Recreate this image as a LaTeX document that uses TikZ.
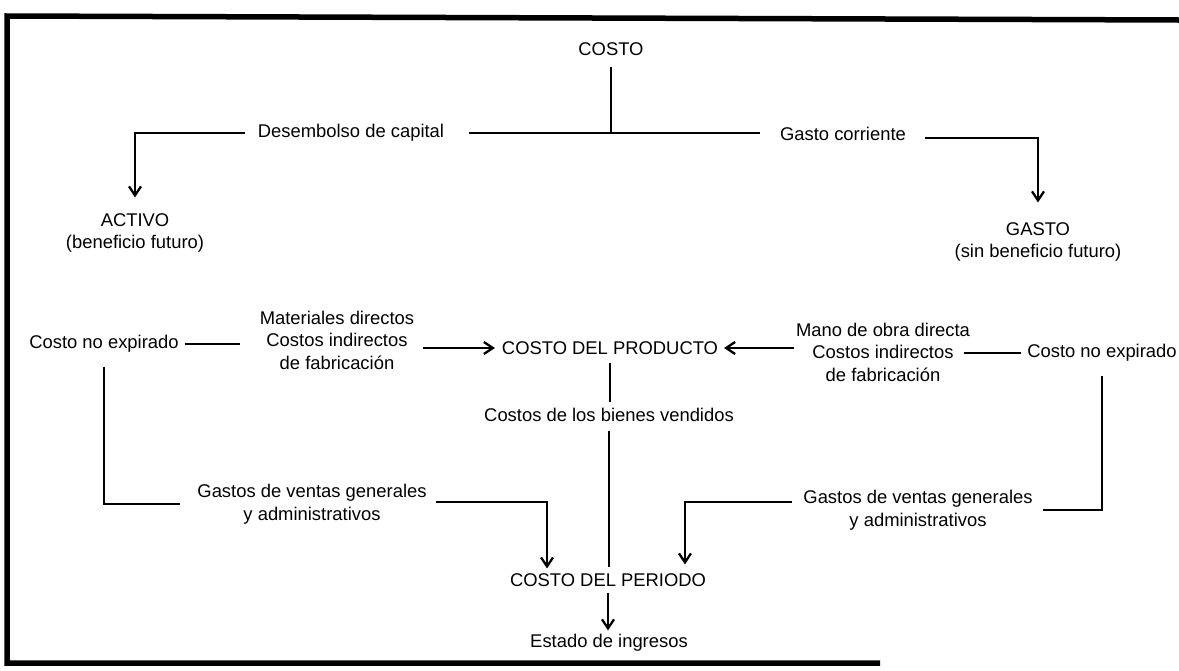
\documentclass[tikz,border=0pt]{standalone}
\usepackage{fontspec}
\setmainfont{Liberation Sans}
\usetikzlibrary{arrows.meta,calc}
\begin{document}
\begin{tikzpicture}[x=1pt,y=-1pt,
  lbl/.style={inner sep=0pt, outer sep=0pt, align=center, font=\fontsize{18.4}{22.5}\selectfont},
  conn/.style={line width=2.3pt},
  arr/.style={line width=2.3pt, -{Straight Barb[length=9pt,width=12pt]}},
  framel/.style={line width=5.5pt, line join=miter}]
\useasboundingbox (0,0) rectangle (1179,670);
% frame
\draw[framel] (1179,20) -- (7,16) -- (7,663) -- (880,663);

% nodes
\node[lbl] (costo)   at (611,49)  {COSTO};
\node[lbl] (desem)   at (351,133) {Desembolso de capital};
\node[lbl] (gastoc)  at (843,134) {Gasto corriente};
\node[lbl] (activo)  at (135,233) {ACTIVO\\(beneficio futuro)};
\node[lbl] (gasto)   at (1038,242) {GASTO\\(sin beneficio futuro)};
\node[lbl] (cnel)    at (104,344) {Costo no expirado};
\node[lbl] (mat)     at (337,340) {Materiales directos\\Costos indirectos\\de fabricación};
\node[lbl] (prod)    at (610,348) {COSTO DEL PRODUCTO};
\node[lbl] (mano)    at (883,352) {Mano de obra directa\\Costos indirectos\\de fabricación};
\node[lbl] (cner)    at (1102,353) {Costo no expirado};
\node[lbl] (bienes)  at (609,415) {Costos de los bienes vendidos};
\node[lbl] (gvl)     at (312,504) {Gastos de ventas generales\\y administrativos};
\node[lbl] (gvr)     at (918,510) {Gastos de ventas generales\\y administrativos};
\node[lbl] (periodo) at (608,580) {COSTO DEL PERIODO};
\node[lbl] (estado)  at (609,643) {Estado de ingresos};

% top tree
\draw[conn, shorten <=11pt] (costo.south) -- (costo.south |- desem.east);
\draw[conn, shorten <=25pt, shorten >=20pt] (desem.east) -- (desem.east -| gastoc.west);
\draw[arr, shorten <=13pt, shorten >=16pt] (desem.west) -- (desem.west -| activo.north) -- (activo.north);
\coordinate (gcs) at ($(gastoc.east)+(0,4)$);
\draw[arr, shorten <=19pt, shorten >=20pt] (gcs) -- (gcs -| gasto.north) -- (gasto.north);

% middle row
\draw[conn, shorten <=6pt, shorten >=20pt] (cnel.east) -- (cnel.east -| mat.west);
\draw[arr, shorten <=9pt, shorten >=7pt] (mat.east |- prod.west) -- (prod.west);
\draw[arr, shorten <=2pt, shorten >=6pt] (mano.west |- prod.east) -- (prod.east);
\draw[conn, shorten <=-6pt, shorten >=6pt] (mano.east |- cner.west) -- (cner.west);

% product to period
\draw[conn, shorten <=8pt, shorten >=6pt] (prod.south) -- (prod.south |- bienes.north);
\draw[conn, shorten <=9pt, shorten >=6pt] (bienes.south) -- (bienes.south |- periodo.north);
\draw[arr, shorten <=6pt, shorten >=4pt] (periodo.south) -- (periodo.south |- estado.north);

% left expenses branch
\draw[conn, shorten <=14pt, shorten >=17pt] (cnel.south) -- (cnel.south |- gvl.west) -- (gvl.west);
\coordinate (pl) at ($(periodo.north west)+(37,-5)$);
\coordinate (gvle) at ($(gvl.east)+(0,-2)$);
\draw[arr, shorten <=9pt] (gvle) -- (gvle -| pl) -- (pl);

% right expenses branch
\draw[conn, shorten <=14pt, shorten >=10pt] (cner.south) -- (cner.south |- gvr.east) -- (gvr.east);
\coordinate (pr) at ($(periodo.north east)+(-21,-9)$);
\coordinate (gvrw) at ($(gvr.west)+(0,-8)$);
\draw[arr, shorten <=11pt] (gvrw) -- (gvrw -| pr) -- (pr);
\end{tikzpicture}
\end{document}
